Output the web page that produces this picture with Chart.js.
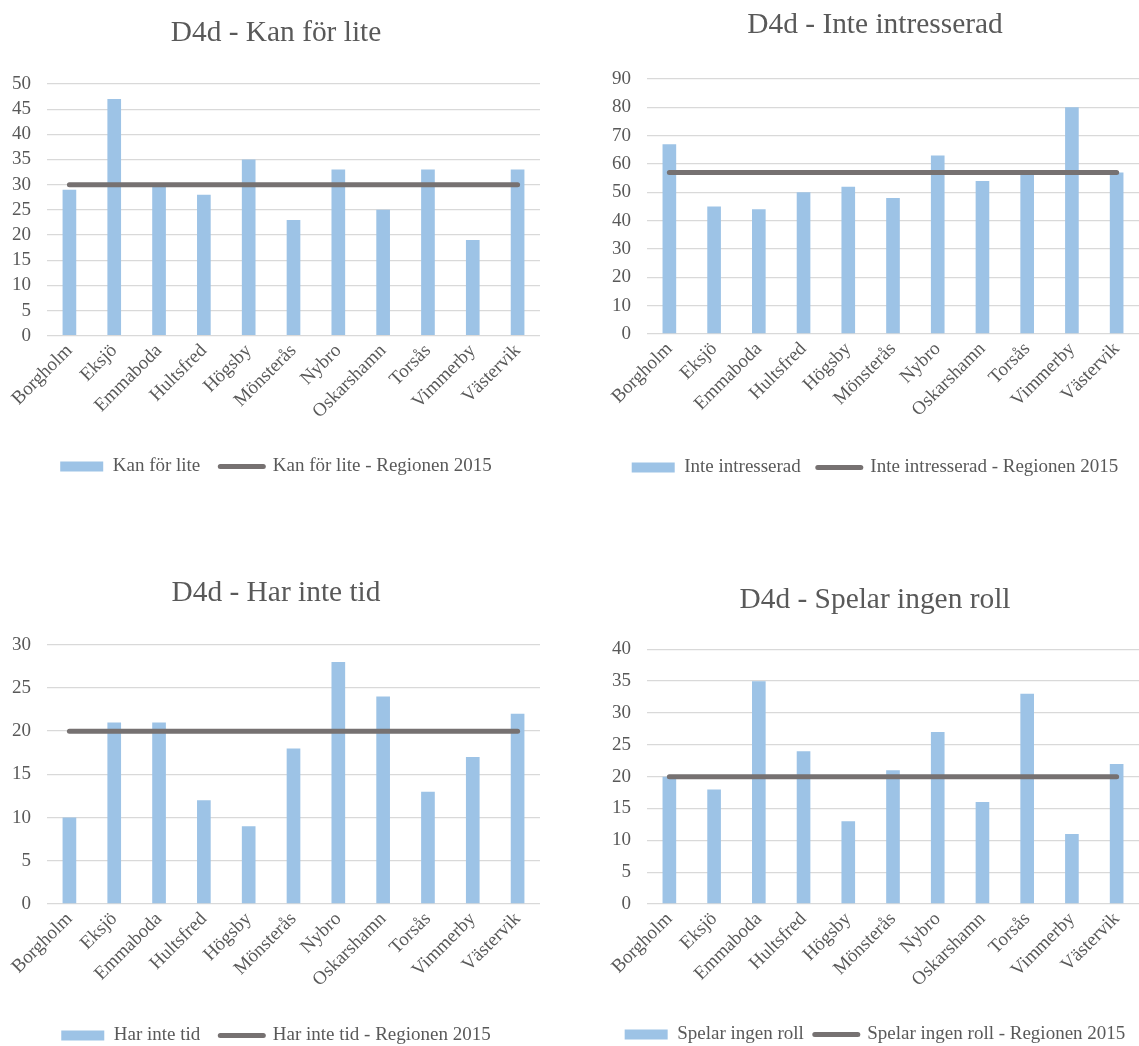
<!DOCTYPE html>
<html>
<head>
<meta charset="utf-8">
<script src="https://cdn.jsdelivr.net/npm/chart.js@4.4.1/dist/chart.umd.min.js"></script>
<style>
  html, body { margin: 0; padding: 0; background: #ffffff; overflow: hidden; width: 1139px; height: 1046px; }
  canvas { position: absolute; }
</style>
</head>
<body>
<canvas id="c1"></canvas>
<canvas id="c2"></canvas>
<canvas id="c3"></canvas>
<canvas id="c4"></canvas>
<script>
// ---- data ----
const categories = ["Borgholm", "Eksjö", "Emmaboda", "Hultsfred", "Högsby", "Mönsterås", "Nybro", "Oskarshamn", "Torsås", "Vimmerby", "Västervik"];

const titles = ["D4d - Kan för lite", "D4d - Inte intresserad", "D4d - Har inte tid", "D4d - Spelar ingen roll"];
const barLabels = ["Kan för lite", "Inte intresserad", "Har inte tid", "Spelar ingen roll"];
const lineLabels = ["Kan för lite - Regionen 2015", "Inte intresserad - Regionen 2015", "Har inte tid - Regionen 2015", "Spelar ingen roll - Regionen 2015"];

const kanForLite = [29, 47, 30, 28, 35, 23, 33, 25, 33, 19, 33];
const kanForLiteRegion = [30, 30, 30, 30, 30, 30, 30, 30, 30, 30, 30];

const inteIntresserad = [67, 45, 44, 50, 52, 48, 63, 54, 57, 80, 57];
const inteIntresseradRegion = [57, 57, 57, 57, 57, 57, 57, 57, 57, 57, 57];

const harInteTid = [10, 21, 21, 12, 9, 18, 28, 24, 13, 17, 22];
const harInteTidRegion = [20, 20, 20, 20, 20, 20, 20, 20, 20, 20, 20];

const spelarIngenRoll = [20, 18, 35, 24, 13, 21, 27, 16, 33, 11, 22];
const spelarIngenRollRegion = [20, 20, 20, 20, 20, 20, 20, 20, 20, 20, 20];

const yMax = [50, 90, 30, 40];
const yStep = [5, 10, 5, 5];

// ---- styles ----
const FONT = "'Liberation Serif', 'Times New Roman', serif";
const TEXT = '#595959';
const BAR = '#9DC3E6';
const LINE = '#767171';
const GRID = '#D9D9D9';
const TITLE_SIZE = 29.4;
const TITLE_LH = TITLE_SIZE * 1.2;
const LABEL_SIZE = 19;

// panel geometry (page pixels)
const panels = [
  { id: 'c1', left: 0,   top: 0,   width: 540, padLeft: 12, yWidth: 35, titleMid: 33,  plotTop: 84,    plotBottom: 335.7, legendMid: 466,  legPad: 20 },
  { id: 'c2', left: 570, top: 0,   width: 569, padLeft: 41, yWidth: 36, titleMid: 25,  plotTop: 79,    plotBottom: 334,   legendMid: 467,  legPad: 17 },
  { id: 'c3', left: 0,   top: 560, width: 540, padLeft: 12, yWidth: 35, titleMid: 593, plotTop: 644.7, plotBottom: 904,   legendMid: 1035, legPad: 20 },
  { id: 'c4', left: 570, top: 560, width: 569, padLeft: 41, yWidth: 36, titleMid: 600, plotTop: 649.3, plotBottom: 904,   legendMid: 1034, legPad: 11 }
];

const barSeries = [kanForLite, inteIntresserad, harInteTid, spelarIngenRoll];
const lineSeries = [kanForLiteRegion, inteIntresseradRegion, harInteTidRegion, spelarIngenRollRegion];

function legendLabels(chart) {
  return chart.data.datasets.map((ds, i) => {
    const isLine = ds.type === 'line';
    return {
      text: ds.label,
      fillStyle: isLine ? ds.borderColor : ds.backgroundColor,
      strokeStyle: isLine ? ds.borderColor : ds.backgroundColor,
      lineWidth: isLine ? 5 : 0,
      lineCap: 'round',
      pointStyle: isLine ? 'line' : 'rect',
      fontColor: TEXT,
      hidden: false,
      datasetIndex: i
    };
  });
}

panels.forEach((P, k) => {
  const H = Math.round(P.legendMid - P.top + 19.5);
  const legendHeight = LABEL_SIZE + P.legPad + 10;
  const legendTop = P.top + H - legendHeight;
  const xHeight = legendTop - P.plotBottom;
  const titlePadTop = P.titleMid - P.top - TITLE_LH / 2;
  const titlePadBottom = P.plotTop - P.top - titlePadTop - TITLE_LH;

  const cv = document.getElementById(P.id);
  cv.width = P.width; cv.height = H;
  cv.style.left = P.left + 'px'; cv.style.top = P.top + 'px';
  cv.style.width = P.width + 'px'; cv.style.height = H + 'px';

  new Chart(cv, {
    data: {
      labels: categories,
      datasets: [
        {
          type: 'bar',
          label: barLabels[k],
          data: barSeries[k],
          backgroundColor: BAR,
          borderWidth: 0,
          categoryPercentage: 1.0,
          barPercentage: 0.305,
          order: 1
        },
        {
          type: 'line',
          label: lineLabels[k],
          data: lineSeries[k],
          borderColor: LINE,
          backgroundColor: LINE,
          borderWidth: 5,
          borderCapStyle: 'round',
          pointRadius: 0,
          pointHoverRadius: 0,
          fill: false,
          tension: 0,
          order: 0
        }
      ]
    },
    options: {
      responsive: false,
      animation: false,
      devicePixelRatio: 1,
      layout: { padding: { left: P.padLeft, right: 0, top: 0, bottom: 0 } },
      plugins: {
        title: {
          display: true,
          text: titles[k],
          color: TEXT,
          font: { family: FONT, size: TITLE_SIZE, weight: 'normal', lineHeight: 1.2 },
          padding: { top: titlePadTop, bottom: titlePadBottom }
        },
        legend: {
          display: true,
          position: 'bottom',
          labels: {
            usePointStyle: true,
            pointStyleWidth: 43,
            boxHeight: 10,
            padding: P.legPad,
            color: TEXT,
            font: { family: FONT, size: LABEL_SIZE },
            generateLabels: legendLabels
          }
        },
        tooltip: { enabled: false }
      },
      scales: {
        x: {
          offset: true,
          grid: { display: false },
          border: { display: false },
          ticks: {
            color: TEXT,
            font: { family: FONT, size: LABEL_SIZE },
            minRotation: 45,
            maxRotation: 45,
            autoSkip: false,
            padding: -4,
            labelOffset: 0
          },
          afterFit: (scale) => { scale.height = xHeight; }
        },
        y: {
          min: 0,
          max: yMax[k],
          grid: { color: GRID, lineWidth: 1.3, drawTicks: false },
          border: { display: false },
          ticks: {
            stepSize: yStep[k],
            autoSkip: false,
            color: TEXT,
            font: { family: FONT, size: LABEL_SIZE },
            padding: 16
          },
          afterFit: (scale) => { scale.width = P.yWidth; }
        }
      }
    }
  });
});
</script>
</body>
</html>
